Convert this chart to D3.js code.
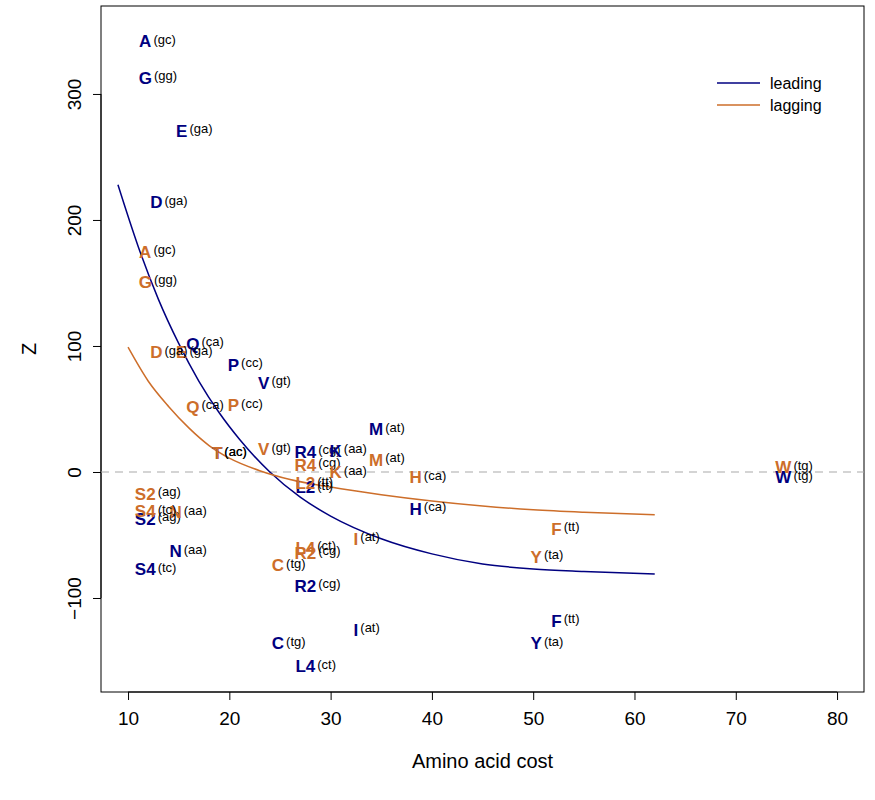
<!DOCTYPE html><html><head><meta charset="utf-8"><script src="https://cdn.jsdelivr.net/npm/d3@7"></script>
<style>body{margin:0;background:#fff}text{font-family:"Liberation Sans",Arial,sans-serif}</style></head><body><svg id="c" width="875" height="800"></svg>
<script>
const aas=["A","G","E","D","Q","P","V","T","M","R4","K","L2","H","S2","N","S4","R2","I","C","L4","F","Y","W"];
const codonsLead=["(gc)","(gg)","(ga)","(ga)","(ca)","(cc)","(gt)","(ac)","(at)","(cg)","(aa)","(tt)","(ca)","(ag)","(aa)","(tc)","(cg)","(at)","(tg)","(ct)","(tt)","(ta)","(tg)"];
const cost=[11.7,11.7,15.3,12.8,16.4,20.4,23.4,18.8,34.5,27.5,30.5,27.5,38.4,11.7,14.7,11.7,27.5,32.5,24.8,27.5,52.3,50.3,74.7];
const zLead=[342,313,271,214,102,85,71,15,34,16,17,-12,-29,-37,-63,-77,-90,-125,-136,-154,-118,-136,-4];
const zLag=[175,151,95,95,52,53,18,15,10,6,0,-9,-4,-17,-32,-31,-64,-53,-74,-60,-45,-67,4];
const curveLeadX=[9,11,13,15,17,19,21,24,27,30,35,40,45,50,55,62];
const curveLeadY=[228,179,137,102,72,47,26,0,-20,-35,-53,-65,-73,-77,-79,-81];
const curveLagX=[10,12,14,16,18,20,23,26,30,35,40,45,50,55,62];
const curveLagY=[99,72,52,35,21,11,1,-6,-12,-18,-23,-27,-30,-32,-34];
const xTicks=[10,20,30,40,50,60,70,80];
const yTicks=[-100,0,100,200,300];
const series=[{name:"leading",color:"#000080"},{name:"lagging",color:"#CD6E2A"}];

const svg=d3.select("#c");
const L=101,R=864,T=6,B=692;
const x=d3.scaleLinear().domain([7.33,82.66]).range([L,R]);
const y=d3.scaleLinear().domain([-174.6,369.8]).range([B,T]);
svg.append("rect").attr("x",L).attr("y",T).attr("width",R-L).attr("height",B-T).attr("fill","none").attr("stroke","#000");
const xa=svg.append("g").attr("transform",`translate(0,${B})`).call(d3.axisBottom(x).tickValues(xTicks).tickSize(8).tickPadding(12).tickFormat(d3.format("d")));
xa.select(".domain").attr("d",`M${x(10)},0H${x(80)}`);
xa.selectAll("text").attr("font-size",19).attr("fill","#000");
const ya=svg.append("g").attr("transform",`translate(${L},0)`).call(d3.axisLeft(y).tickValues(yTicks).tickSize(8).tickFormat(d3.format("d")));
ya.select(".domain").attr("d",`M0,${y(-100)}V${y(300)}`);
ya.selectAll(".tick text").attr("font-size",19).attr("fill","#000").attr("text-anchor","middle").attr("x",0).attr("dy",0)
  .attr("transform","translate(-20,0) rotate(-90)");
svg.append("text").attr("x",(L+R)/2).attr("y",768).attr("text-anchor","middle").attr("font-size",20).text("Amino acid cost");
svg.append("text").attr("transform",`translate(36,${(T+B)/2}) rotate(-90)`).attr("text-anchor","middle").attr("font-size",20).text("Z");
svg.append("line").attr("x1",L).attr("x2",R).attr("y1",y(0)).attr("y2",y(0)).attr("stroke","#aaa").attr("stroke-width",1.2).attr("stroke-dasharray","8,6");
const line=d3.line().x(d=>x(d[0])).y(d=>y(d[1])).curve(d3.curveMonotoneX);
svg.append("path").attr("d",line(d3.zip(curveLeadX,curveLeadY))).attr("fill","none").attr("stroke",series[0].color).attr("stroke-width",1.5);
svg.append("path").attr("d",line(d3.zip(curveLagX,curveLagY))).attr("fill","none").attr("stroke",series[1].color).attr("stroke-width",1.5);
function labels(zs,color){
  aas.forEach((a,i)=>{
    const g=svg.append("g");
    const t=g.append("text").attr("x",x(cost[i])).attr("y",y(zs[i])).attr("dy","0.36em").attr("text-anchor","middle")
      .attr("font-size",17).attr("font-weight","bold").attr("fill",color).text(a);
    const w=t.node().getComputedTextLength();
    g.append("text").attr("x",x(cost[i])+w/2+2).attr("y",y(zs[i])).attr("dy","0.2em").attr("font-size",13).attr("fill","#000").text(codonsLead[i]);
  });
}
labels(zLead,series[0].color);
labels(zLag,series[1].color);
series.forEach((s,i)=>{
  const yy=83+i*22;
  svg.append("line").attr("x1",717).attr("x2",760).attr("y1",yy).attr("y2",yy).attr("stroke",s.color).attr("stroke-width",1.5);
  svg.append("text").attr("x",770).attr("y",yy).attr("dy","0.35em").attr("font-size",16).text(s.name);
});
</script></body></html>
